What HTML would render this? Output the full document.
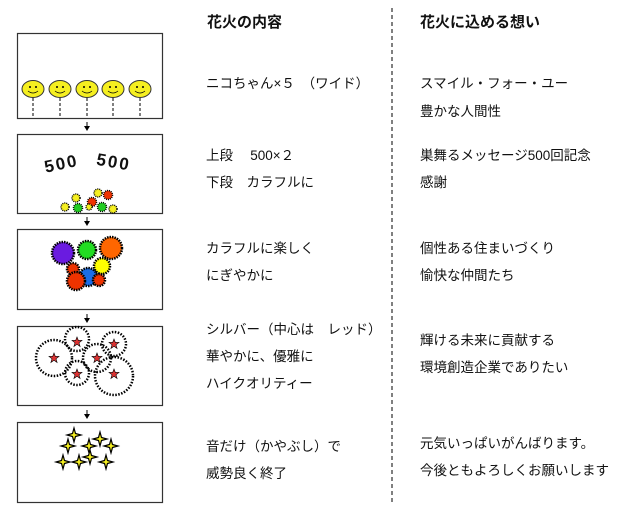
<!DOCTYPE html>
<html><head><meta charset="utf-8"><style>
html,body{margin:0;padding:0;background:#fff;}
svg{display:block;}
text{font-family:"Liberation Sans","Noto Sans CJK JP",sans-serif;font-size:13.5px;fill:#111;}
.h{font-size:15px;font-weight:bold;}
</style></head><body>
<svg width="640" height="511" viewBox="0 0 640 511" xmlns="http://www.w3.org/2000/svg">
<defs>
<g id="sm"><ellipse cx="0" cy="0" rx="11" ry="8.5" fill="#f5ef20" stroke="#333" stroke-width="1"/><circle cx="-3" cy="-2" r="1" fill="#000"/><circle cx="3" cy="-2" r="1" fill="#000"/><path d="M-5,2 Q0,6 5,2" fill="none" stroke="#000" stroke-width="0.8"/></g>
<g id="st"><path d="M0,-7 L1.5,-1.5 L7,0 L1.5,1.5 L0,7 L-1.5,1.5 L-7,0 L-1.5,-1.5 Z" fill="#f5ef20" stroke="#000" stroke-width="1.2"/></g>
<g id="rs"><path d="M0,-5 L1.3,-1.6 L5,-1.6 L2,0.8 L3.1,4.5 L0,2.3 L-3.1,4.5 L-2,0.8 L-5,-1.6 L-1.3,-1.6 Z" fill="#d33" stroke="#000" stroke-width="0.6"/></g>
<g id="ar"><line x1="0" y1="0" x2="0" y2="5" stroke="#000" stroke-width="1"/><path d="M-3,4 L3,4 L0,9 z" fill="#000"/></g>
</defs>
<line x1="392" y1="8" x2="392" y2="502" stroke="#000" stroke-width="1" stroke-dasharray="4,3"/>
<g fill="#fff" stroke="#333" stroke-width="1.2">
<rect x="17.5" y="33.5" width="145" height="85"/>
<rect x="17.5" y="134.5" width="145" height="79"/>
<rect x="17.5" y="229.5" width="145" height="80"/>
<rect x="17.5" y="326.5" width="145" height="79"/>
<rect x="17.5" y="422.5" width="145" height="80"/>
</g>
<use href="#ar" x="87" y="122"/><use href="#ar" x="87" y="217"/><use href="#ar" x="87" y="314"/><use href="#ar" x="87" y="410"/>
<g stroke="#000" stroke-width="1" stroke-dasharray="3,2">
<line x1="33" y1="98" x2="33" y2="118"/><line x1="60" y1="98" x2="60" y2="118"/><line x1="87" y1="98" x2="87" y2="118"/><line x1="113" y1="98" x2="113" y2="118"/><line x1="140" y1="98" x2="140" y2="118"/>
</g>
<use href="#sm" x="33" y="89"/><use href="#sm" x="60" y="89"/><use href="#sm" x="87" y="89"/><use href="#sm" x="113" y="89"/><use href="#sm" x="140" y="89"/>
<text x="44" y="170" style="font-size:17px;font-weight:bold;letter-spacing:2px" transform="rotate(-12 58 163)">500</text>
<text x="96" y="168" style="font-size:17px;font-weight:bold;letter-spacing:2px" transform="rotate(10 115 165)">500</text>
<g stroke="#000" stroke-width="1.5" stroke-dasharray="1,1">
<circle cx="76" cy="198" r="4" fill="#f5ef20"/><circle cx="65" cy="207" r="4" fill="#f5ef20"/><circle cx="78" cy="208" r="4.5" fill="#2c2"/><circle cx="92" cy="202" r="4.5" fill="#e30"/><circle cx="98" cy="193" r="4" fill="#f5ef20"/><circle cx="108" cy="195" r="4.5" fill="#e30"/><circle cx="102" cy="207" r="4.5" fill="#2c2"/><circle cx="113" cy="209" r="4" fill="#f5ef20"/><circle cx="89" cy="207" r="3" fill="#f5ef20"/>
</g>
<g stroke="#000" stroke-width="2.5" stroke-dasharray="1.5,1">
<circle cx="63" cy="253" r="11" fill="#6a1be0"/><circle cx="87" cy="250" r="9" fill="#2d2"/><circle cx="111" cy="248" r="11" fill="#f60"/><circle cx="102" cy="266" r="8" fill="#ff0"/><circle cx="73" cy="269" r="6" fill="#e30"/><circle cx="88" cy="277" r="9" fill="#1a6de8"/><circle cx="76" cy="281" r="9" fill="#e30"/><circle cx="99" cy="280" r="6" fill="#e30"/>
</g>
<g fill="none" stroke="#000" stroke-width="2.5" stroke-dasharray="1.5,1.5">
<circle cx="54" cy="358" r="18"/><circle cx="77" cy="339" r="12"/><circle cx="114" cy="344" r="12"/><circle cx="97" cy="358" r="14"/><circle cx="77" cy="373" r="12"/><circle cx="114" cy="376" r="19"/>
</g>
<use href="#rs" x="54" y="358"/><use href="#rs" x="77" y="342"/><use href="#rs" x="114" y="344"/><use href="#rs" x="97" y="358"/><use href="#rs" x="77" y="374"/><use href="#rs" x="114" y="374"/>
<use href="#st" x="74" y="435"/><use href="#st" x="68" y="446"/><use href="#st" x="100" y="439"/><use href="#st" x="89" y="446"/><use href="#st" x="111" y="446"/><use href="#st" x="90" y="457"/><use href="#st" x="63" y="462"/><use href="#st" x="79" y="462"/><use href="#st" x="106" y="462"/>
<text class="h" x="207" y="27">花火の内容</text>
<text class="h" x="420" y="27">花火に込める想い</text>
<text x="206" y="88">ニコちゃん×５　（ワイド）</text>
<text x="206" y="160">上段　 500×２</text>
<text x="206" y="187">下段　カラフルに</text>
<text x="206" y="253">カラフルに楽しく</text>
<text x="206" y="280">にぎやかに</text>
<text x="206" y="334">シルバー（中心は　レッド）</text>
<text x="206" y="361">華やかに、優雅に</text>
<text x="206" y="388">ハイクオリティー</text>
<text x="206" y="451">音だけ（かやぶし）で</text>
<text x="206" y="478">威勢良く終了</text>
<text x="420" y="88">スマイル・フォー・ユー</text>
<text x="420" y="116">豊かな人間性</text>
<text x="420" y="160">巣舞るメッセージ500回記念</text>
<text x="420" y="187">感謝</text>
<text x="420" y="253">個性ある住まいづくり</text>
<text x="420" y="280">愉快な仲間たち</text>
<text x="420" y="345">輝ける未来に貢献する</text>
<text x="420" y="372">環境創造企業でありたい</text>
<text x="420" y="448">元気いっぱいがんばります。</text>
<text x="420" y="475">今後ともよろしくお願いします</text>
</svg>
</body></html>
